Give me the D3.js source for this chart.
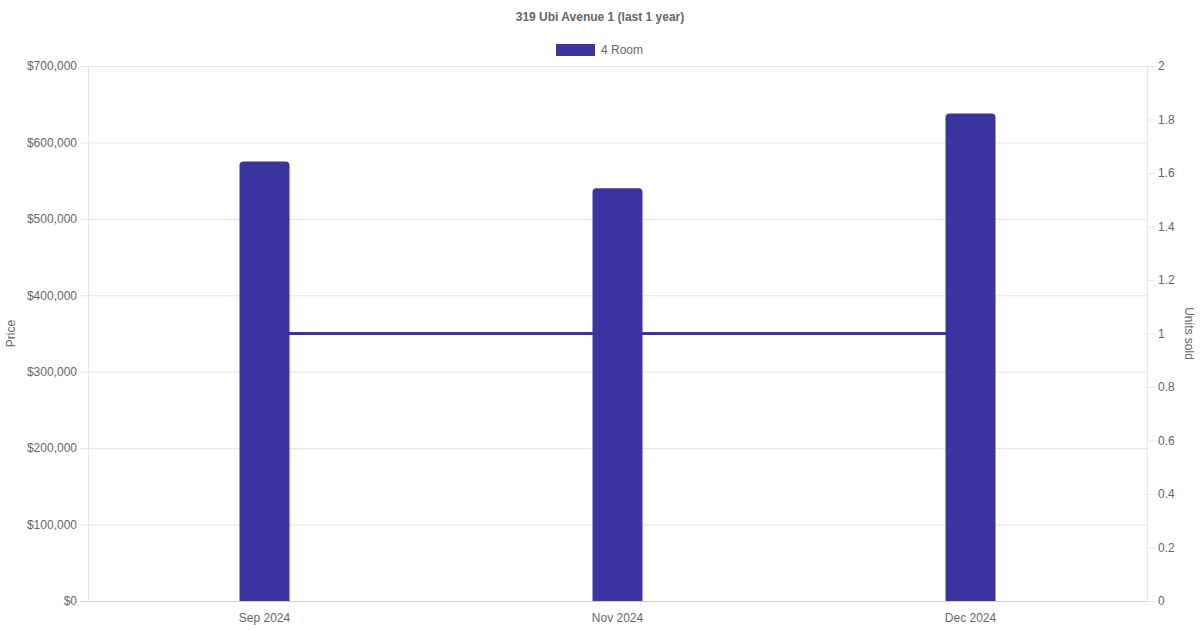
<!DOCTYPE html>
<html>
<head>
<meta charset="utf-8">
<script src="https://cdn.jsdelivr.net/npm/d3@7"></script>
<style>
  body { margin: 0; background: #fff; }
  text { font-family: "Liberation Sans", Arial, sans-serif; }
</style>
</head>
<body>
<div id="chart"></div>
<script>
// Data
const months = ["Sep 2024", "Nov 2024", "Dec 2024"];
const prices = [575000, 540000, 638000];
const unitsSold = [1, 1, 1];
const priceTicks = [0, 100000, 200000, 300000, 400000, 500000, 600000, 700000];
const unitTicks = [0, 0.2, 0.4, 0.6, 0.8, 1, 1.2, 1.4, 1.6, 1.8, 2];

const width = 1200, height = 630;
const margin = {top: 66, bottom: 29, left: 88, right: 53};
const color = "#3934a0";
const textColor = "#666";
const gridColor = "#e5e5e5";

const svg = d3.select("#chart")
    .append("svg")
    .attr("width", width)
    .attr("height", height);

// Scales
const xScale = d3.scaleBand()
    .domain(months)
    .range([margin.left, width - margin.right]);

const yScale = d3.scaleLinear()
    .domain([0, 700000])
    .range([height - margin.bottom, margin.top]);

const y2Scale = d3.scaleLinear()
    .domain([0, 2])
    .range([height - margin.bottom, margin.top]);

// Grid lines
svg.append("g")
    .selectAll("line")
    .data(priceTicks)
    .enter().append("line")
    .attr("x1", margin.left - 8)
    .attr("x2", width - margin.right)
    .attr("y1", d => yScale(d) + 0.5)
    .attr("y2", d => yScale(d) + 0.5)
    .attr("stroke", d => d === 0 ? "#ccc" : gridColor);

// Left axis
const yAxis = svg.append("g")
    .attr("transform", `translate(${margin.left},0)`)
    .call(d3.axisLeft(yScale).tickValues(priceTicks).tickSize(0).tickPadding(11)
        .tickFormat(d => "$" + d3.format(",")(d)));
yAxis.select(".domain").remove();
yAxis.append("line")
    .attr("x1", 0.5).attr("x2", 0.5)
    .attr("y1", margin.top).attr("y2", height - margin.bottom)
    .attr("stroke", gridColor);

// Right axis
const y2Axis = svg.append("g")
    .attr("transform", `translate(${width - margin.right},0)`)
    .call(d3.axisRight(y2Scale).tickValues(unitTicks).tickSize(8).tickPadding(3)
        .tickFormat(d => d3.format("")(+d.toFixed(1))));
y2Axis.select(".domain").attr("d", `M0.5,${margin.top}V${height - margin.bottom}`).attr("stroke", gridColor);
y2Axis.selectAll(".tick line").attr("stroke", gridColor);

// Bottom axis
const xAxis = svg.append("g")
    .attr("transform", `translate(0,${height - margin.bottom})`)
    .call(d3.axisBottom(xScale).tickSize(0).tickPadding(12));
xAxis.select(".domain").remove();

svg.selectAll(".tick text")
    .attr("fill", textColor)
    .style("font-size", "12px")
    .style("font-family", "Liberation Sans, Arial, sans-serif");

// Units sold line (behind bars)
const line = d3.line()
    .x((d, i) => xScale(months[i]) + xScale.bandwidth() / 2)
    .y(d => y2Scale(d));

svg.append("path")
    .datum(unitsSold)
    .attr("d", line)
    .attr("fill", "none")
    .attr("stroke", color)
    .attr("stroke-width", 3);

// Bars with rounded tops
const barWidth = 50, r = 4;
svg.append("g")
    .selectAll("path")
    .data(prices)
    .enter().append("path")
    .attr("d", (d, i) => {
        const x0 = xScale(months[i]) + xScale.bandwidth() / 2 - barWidth / 2;
        const x1 = x0 + barWidth;
        const y0 = yScale(0);
        const y1 = yScale(d);
        return `M${x0},${y0}V${y1 + r}Q${x0},${y1} ${x0 + r},${y1}H${x1 - r}Q${x1},${y1} ${x1},${y1 + r}V${y0}Z`;
    })
    .attr("fill", color);

// Title
svg.append("text")
    .attr("x", width / 2)
    .attr("y", 21)
    .attr("text-anchor", "middle")
    .style("font-size", "12px")
    .style("font-weight", "bold")
    .attr("fill", textColor)
    .text("319 Ubi Avenue 1 (last 1 year)");

// Legend
svg.append("rect")
    .attr("x", 556).attr("y", 44)
    .attr("width", 39).attr("height", 12)
    .attr("fill", color);
svg.append("text")
    .attr("x", 601).attr("y", 54)
    .style("font-size", "12px")
    .attr("fill", textColor)
    .text("4 Room");

// Axis titles
svg.append("text")
    .attr("transform", `translate(15,${(margin.top + height - margin.bottom) / 2}) rotate(-90)`)
    .attr("text-anchor", "middle")
    .style("font-size", "12px")
    .attr("fill", textColor)
    .text("Price");

svg.append("text")
    .attr("transform", `translate(1185,${(margin.top + height - margin.bottom) / 2}) rotate(90)`)
    .attr("text-anchor", "middle")
    .style("font-size", "12px")
    .attr("fill", textColor)
    .text("Units sold");
</script>
</body>
</html>
